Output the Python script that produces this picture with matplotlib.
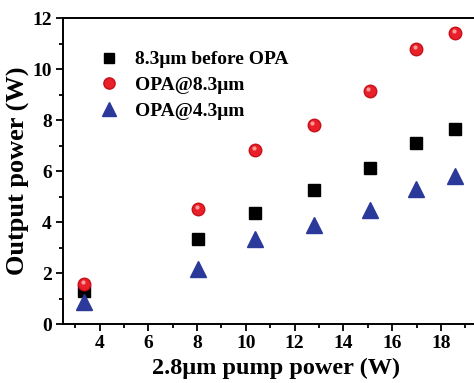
import numpy as np
import matplotlib.pyplot as plt
from matplotlib.ticker import MultipleLocator

pump = [3.38, 8.04, 10.39, 12.78, 15.08, 16.99, 18.59]
before_opa = [1.31, 3.33, 4.37, 5.24, 6.13, 7.11, 7.66]
opa_83 = [1.58, 4.50, 6.82, 7.80, 9.15, 10.80, 11.40]
opa_43 = [0.87, 2.17, 3.33, 3.90, 4.47, 5.28, 5.82]

plt.rcParams['font.family'] = ['Liberation Serif', 'DejaVu Serif']
plt.rcParams['font.weight'] = 'bold'

fig = plt.figure(figsize=(4.74, 3.83), dpi=100)
ax = fig.add_axes([0.133, 0.154, 0.90, 0.799])

ax.plot(pump, before_opa, 's', color='black', ms=8, label='8.3\u03bcm before OPA')
ax.plot(pump, opa_83, 'o', color='#e8202a', mec='#c8101a', ms=9, label='OPA@8.3\u03bcm')
# little highlight on the red balls
ax.plot(np.array(pump) - 0.05, np.array(opa_83) + 0.08, 'o', color='#ff9a9a', ms=3, mew=0)
ax.plot(pump, opa_43, '^', color='#2b3a9a', ms=11, label='OPA@4.3\u03bcm')

ax.set_xlim(2.5, 20)
ax.set_ylim(0, 12)
ax.xaxis.set_minor_locator(MultipleLocator(1))
ax.yaxis.set_major_locator(MultipleLocator(2))
ax.yaxis.set_minor_locator(MultipleLocator(1))
ax.set_xticks(np.arange(4, 20, 2))
ax.tick_params(which='major', direction='out', length=5, width=1.3, labelsize=14, pad=3)
ax.tick_params(which='minor', direction='out', length=3, width=1.3)
for s in ax.spines.values():
    s.set_linewidth(1.4)

ax.set_xlabel('2.8\u03bcm pump power (W)', fontsize=17.5, fontweight='bold', labelpad=4)
ax.set_ylabel('Output power (W)', fontsize=19, fontweight='bold', labelpad=2)

ax.legend(loc='upper left', bbox_to_anchor=(0.04, 0.95), frameon=False,
          prop={'size': 14, 'weight': 'bold'}, handletextpad=0.7, labelspacing=0.42,
          handlelength=1.2, markerscale=0.9)

fig.savefig('out.png', dpi=100)
